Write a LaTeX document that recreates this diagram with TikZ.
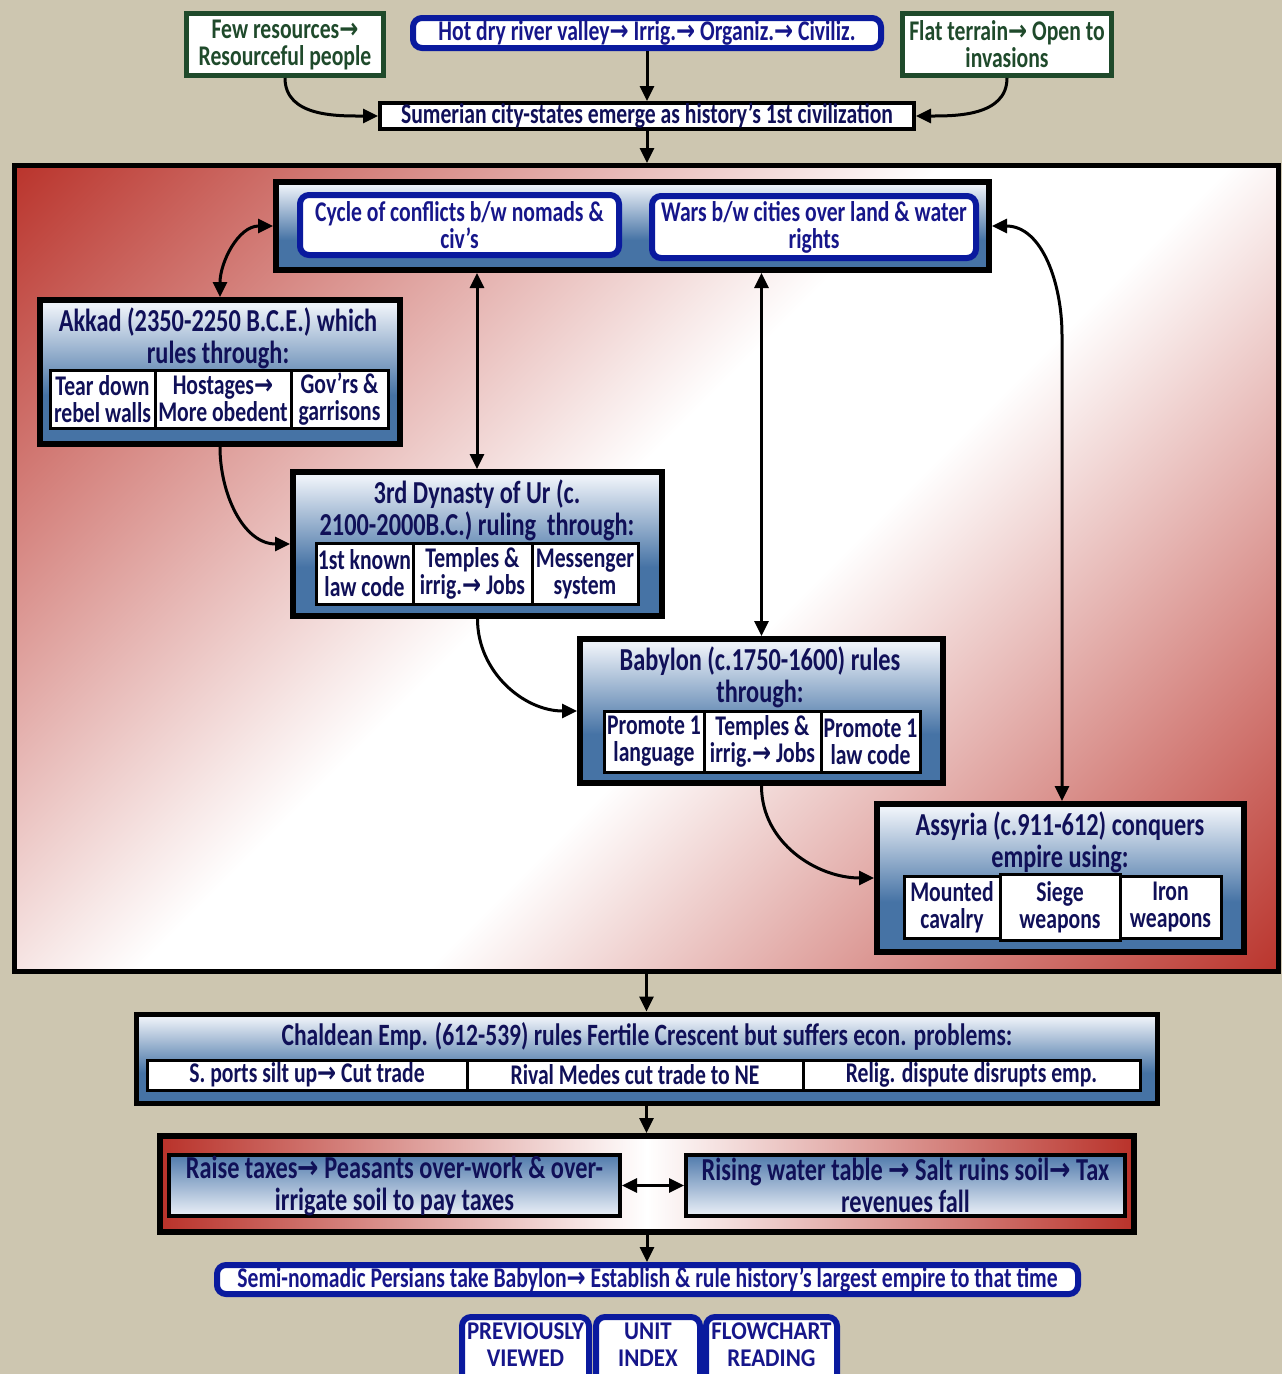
\documentclass[tikz,border=0pt]{standalone}
\usepackage{fontspec}
\setmainfont{Carlito}[FakeStretch=0.76]
\newfontfamily\btnfont{Carlito}[FakeStretch=0.9]
\newfontfamily\arrowfont{DejaVu Sans}[FakeStretch=0.8]
\usetikzlibrary{arrows.meta,calc}

\definecolor{bg}{RGB}{205,198,176}
\definecolor{navy}{RGB}{16,16,88}
\definecolor{royal}{RGB}{10,26,158}
\definecolor{royaltext}{RGB}{22,22,138}
\definecolor{forest}{RGB}{31,74,43}
\definecolor{steel}{RGB}{70,115,165}
\definecolor{steelB}{RGB}{80,122,172}
\definecolor{pale}{RGB}{236,241,248}
\definecolor{brick}{RGB}{185,50,42}

% vertical panel gradient: steel blue below, pale at the top
\pgfdeclareverticalshading{bluebox}{100bp}{color(0bp)=(steel); color(42bp)=(steel); color(73bp)=(pale); color(100bp)=(pale)}
% red corners, white diagonal band
\pgfdeclarehorizontalshading{diagred}{100bp}{color(0bp)=(brick); color(21bp)=(brick); color(47bp)=(white); color(55bp)=(white); color(79bp)=(brick); color(100bp)=(brick)}

\newcommand{\arw}{{\arrowfont\bfseries →}}
\newcommand{\fs}[2]{\fontsize{#1}{#2}\selectfont\bfseries}

\begin{document}
\begin{tikzpicture}[x=1pt,y=-1pt,
  greenbox/.style={draw=forest, line width=5pt, fill=white, text=forest, align=center, inner sep=0, font={\fs{28.5}{27}}},
  roundblue/.style={draw=royal, line width=6pt, fill=white, rounded corners=9pt, text=royaltext, align=center, inner sep=0, font={\fs{28.5}{27}}},
  plainbox/.style={draw=black, line width=4pt, fill=white, text=navy, align=center, inner sep=0, font={\fs{28.5}{27}}},
  panel/.style={draw=black, line width=6pt, shade, shading=bluebox, inner sep=0},
  cellbox/.style={draw=black, line width=3pt, fill=white, text=navy, align=center, inner sep=0, font={\fs{28.5}{27}}},
  title/.style={text=navy, align=center, inner sep=0, font={\fs{32}{32}}},
  bandbox/.style={draw=black, line width=4pt, top color=steelB, bottom color=pale, text=navy, align=center, inner sep=0, font={\fs{32}{32}}},
  btntext/.style={text=royaltext, align=center, inner sep=0, font={\btnfont\fontsize{25.5}{27}\selectfont\bfseries}},
  link/.style={line width=3pt, -{Triangle[length=15pt,width=14pt]}},
  dlink/.style={line width=3pt, {Triangle[length=15pt,width=14pt]}-{Triangle[length=15pt,width=14pt]}}
]
\useasboundingbox (0,0) rectangle (1282,1374);
\clip (0,0) rectangle (1282,1374);
\fill[bg] (0,0) rectangle (1282,1374);

% ---------- origins ----------
\node[greenbox, minimum width=197, minimum height=62] (few) at (285,44.5) {Few resources\arw\\Resourceful people};
\node[roundblue, minimum width=468, minimum height=30] (hot) at (647,33) {Hot dry river valley\arw{} Irrig.\arw{} Organiz.\arw{} Civiliz.};
\node[greenbox, minimum width=209, minimum height=62] (flat) at (1007,44.5) {Flat terrain\arw{} Open to\\invasions};
\node[plainbox, minimum width=534, minimum height=26] (sum) at (647,116) {Sumerian city-states emerge as history’s 1st civilization};

% ---------- empires frame ----------
\node[draw=black, line width=5pt, minimum width=1264, minimum height=806, inner sep=0,
  path picture={\shade[shading=diagred, shading angle=-45]
    ($(path picture bounding box.center)+(-640,-640)$) rectangle ++(1280,1280);}] (frame) at (646.5,568.5) {};

\node[panel, minimum width=713, minimum height=88] (top) at (632.5,226) {};
\node[roundblue, minimum width=319, minimum height=60] (cycle) at (459.5,225) {Cycle of conflicts b/w nomads \&\\civ’s};
\node[roundblue, minimum width=324, minimum height=62] (wars) at (814,227) {Wars b/w cities over land \& water\\rights};

% Akkad
\node[panel, minimum width=360, minimum height=144] (akkad) at (220,372) {};
\node[title] (akkadT) at (218,338) {Akkad (2350-2250 B.C.E.) which\\rules through:};
\node[cellbox, minimum width=105, minimum height=58] (akkadA) at (102.5,399) {Tear down\\rebel walls};
\node[cellbox, minimum width=136, minimum height=58] (akkadB) at (223,399) {Hostages\arw\\More obedent};
\node[cellbox, minimum width=97, minimum height=58] (akkadC) at (339.5,399) {Gov’rs \&\\garrisons};

% Ur
\node[panel, minimum width=369, minimum height=144] (ur) at (477.5,544) {};
\node[title] (urT) at (477,510) {3rd Dynasty of Ur (c.\\2100-2000B.C.) ruling\ \ through:};
\node[cellbox, minimum width=97, minimum height=61] (urA) at (364.5,573.5) {1st known\\law code};
\node[cellbox, minimum width=119, minimum height=61] (urB) at (472.5,573.5) {Temples \&\\irrig.\arw{} Jobs};
\node[cellbox, minimum width=106, minimum height=61] (urC) at (585,573.5) {Messenger\\system};

% Babylon
\node[panel, minimum width=363, minimum height=144] (baby) at (761.5,711) {};
\node[title] (babyT) at (760,677) {Babylon (c.1750-1600) rules\\through:};
\node[cellbox, minimum width=100, minimum height=61] (babyA) at (654,741.5) {Promote 1\\language};
\node[cellbox, minimum width=117, minimum height=61] (babyB) at (762.5,741.5) {Temples \&\\irrig.\arw{} Jobs};
\node[cellbox, minimum width=99, minimum height=61] (babyC) at (870.5,741.5) {Promote 1\\law code};

% Assyria
\node[panel, minimum width=367, minimum height=148] (assy) at (1060.5,878) {};
\node[title] (assyT) at (1060,842) {Assyria (c.911-612) conquers\\empire using:};
\node[cellbox, minimum width=96, minimum height=62] (assyA) at (952,907) {Mounted\\cavalry};
\node[cellbox, minimum width=101, minimum height=62] (assyC) at (1170.5,907) {Iron\\weapons};
\node[cellbox, minimum width=120, minimum height=66] (assyB) at (1060,907) {Siege\\weapons};

% ---------- decline ----------
\node[panel, line width=5pt, minimum width=1021, minimum height=89] (chal) at (646.5,1058.5) {};
\node[title, font={\fs{31}{30}}] (chalT) at (647,1036) {Chaldean Emp. (612-539) rules Fertile Crescent but suffers econ. problems:};
\node[cellbox, minimum width=320, minimum height=30] (chalA) at (307,1075) {S. ports silt up\arw{} Cut trade};
\node[cellbox, minimum width=336, minimum height=30] (chalB) at (635,1075) {Rival Medes cut trade to NE};
\node[cellbox, minimum width=337, minimum height=30] (chalC) at (971.5,1075) {Relig. dispute disrupts emp.};

\node[draw=black, line width=6pt, left color=brick, right color=brick, middle color=white,
  minimum width=974, minimum height=96, inner sep=0] (crisis) at (647,1184) {};
\node[bandbox, minimum width=451, minimum height=61] (raise) at (394.5,1185.5) {Raise taxes\arw{} Peasants over-work \& over-\\irrigate soil to pay taxes};
\node[bandbox, minimum width=439, minimum height=61] (rising) at (905.5,1185.5) {Rising water table \arw{} Salt ruins soil\arw{} Tax\\revenues fall};

\node[roundblue, minimum width=861, minimum height=29] (pers) at (647.5,1279.5) {Semi-nomadic Persians take Babylon\arw{} Establish \& rule history’s largest empire to that time};

% ---------- navigation buttons ----------
\node[roundblue, minimum width=127, minimum height=90, anchor=north] (prev) at (525.5,1314) {};
\node[roundblue, minimum width=104, minimum height=90, anchor=north] (unit) at (648,1314) {};
\node[roundblue, minimum width=131, minimum height=90, anchor=north] (flow) at (771.5,1314) {};
\node[btntext] (prevT) at (525.5,1344.5) {PREVIOUSLY\\VIEWED};
\node[btntext] (unitT) at (648,1344.5) {UNIT\\INDEX};
\node[btntext] (flowT) at (771.5,1344.5) {FLOWCHART\\READING};

% ---------- connectors ----------
\draw[link] (hot.south) -- (sum.north);
\draw[link] (few.south) to[out=-90,in=180] (sum.west);
\draw[link] (flat.south) to[out=-90,in=0] (sum.east);
\draw[link] (sum.south) -- (sum.south |- frame.north);

\draw[dlink] (akkad.north) to[out=90,in=180] (top.west);
\draw[dlink] (urT.north |- top.south) -- (urT.north |- ur.north);
\draw[dlink] (baby.north |- top.south) -- (baby.north);
\coordinate (bend) at (1062,335);
\draw[dlink] (top.east) to[out=0,in=90] (bend) -- (bend |- assy.north);
\draw[link] (akkad.south) to[out=-90,in=180] (ur.west);
\draw[link] (ur.south) to[out=-90,in=180] (baby.west);
\draw[link] (baby.south) to[out=-90,in=180] (assy.west);

\draw[link] (frame.south) -- (chal.north);
\draw[link] (chal.south) -- (chal.south |- crisis.north);
\draw[dlink] (raise.east) -- (rising.west);
\draw[link] (crisis.south) -- (crisis.south |- pers.north);
\end{tikzpicture}
\end{document}
